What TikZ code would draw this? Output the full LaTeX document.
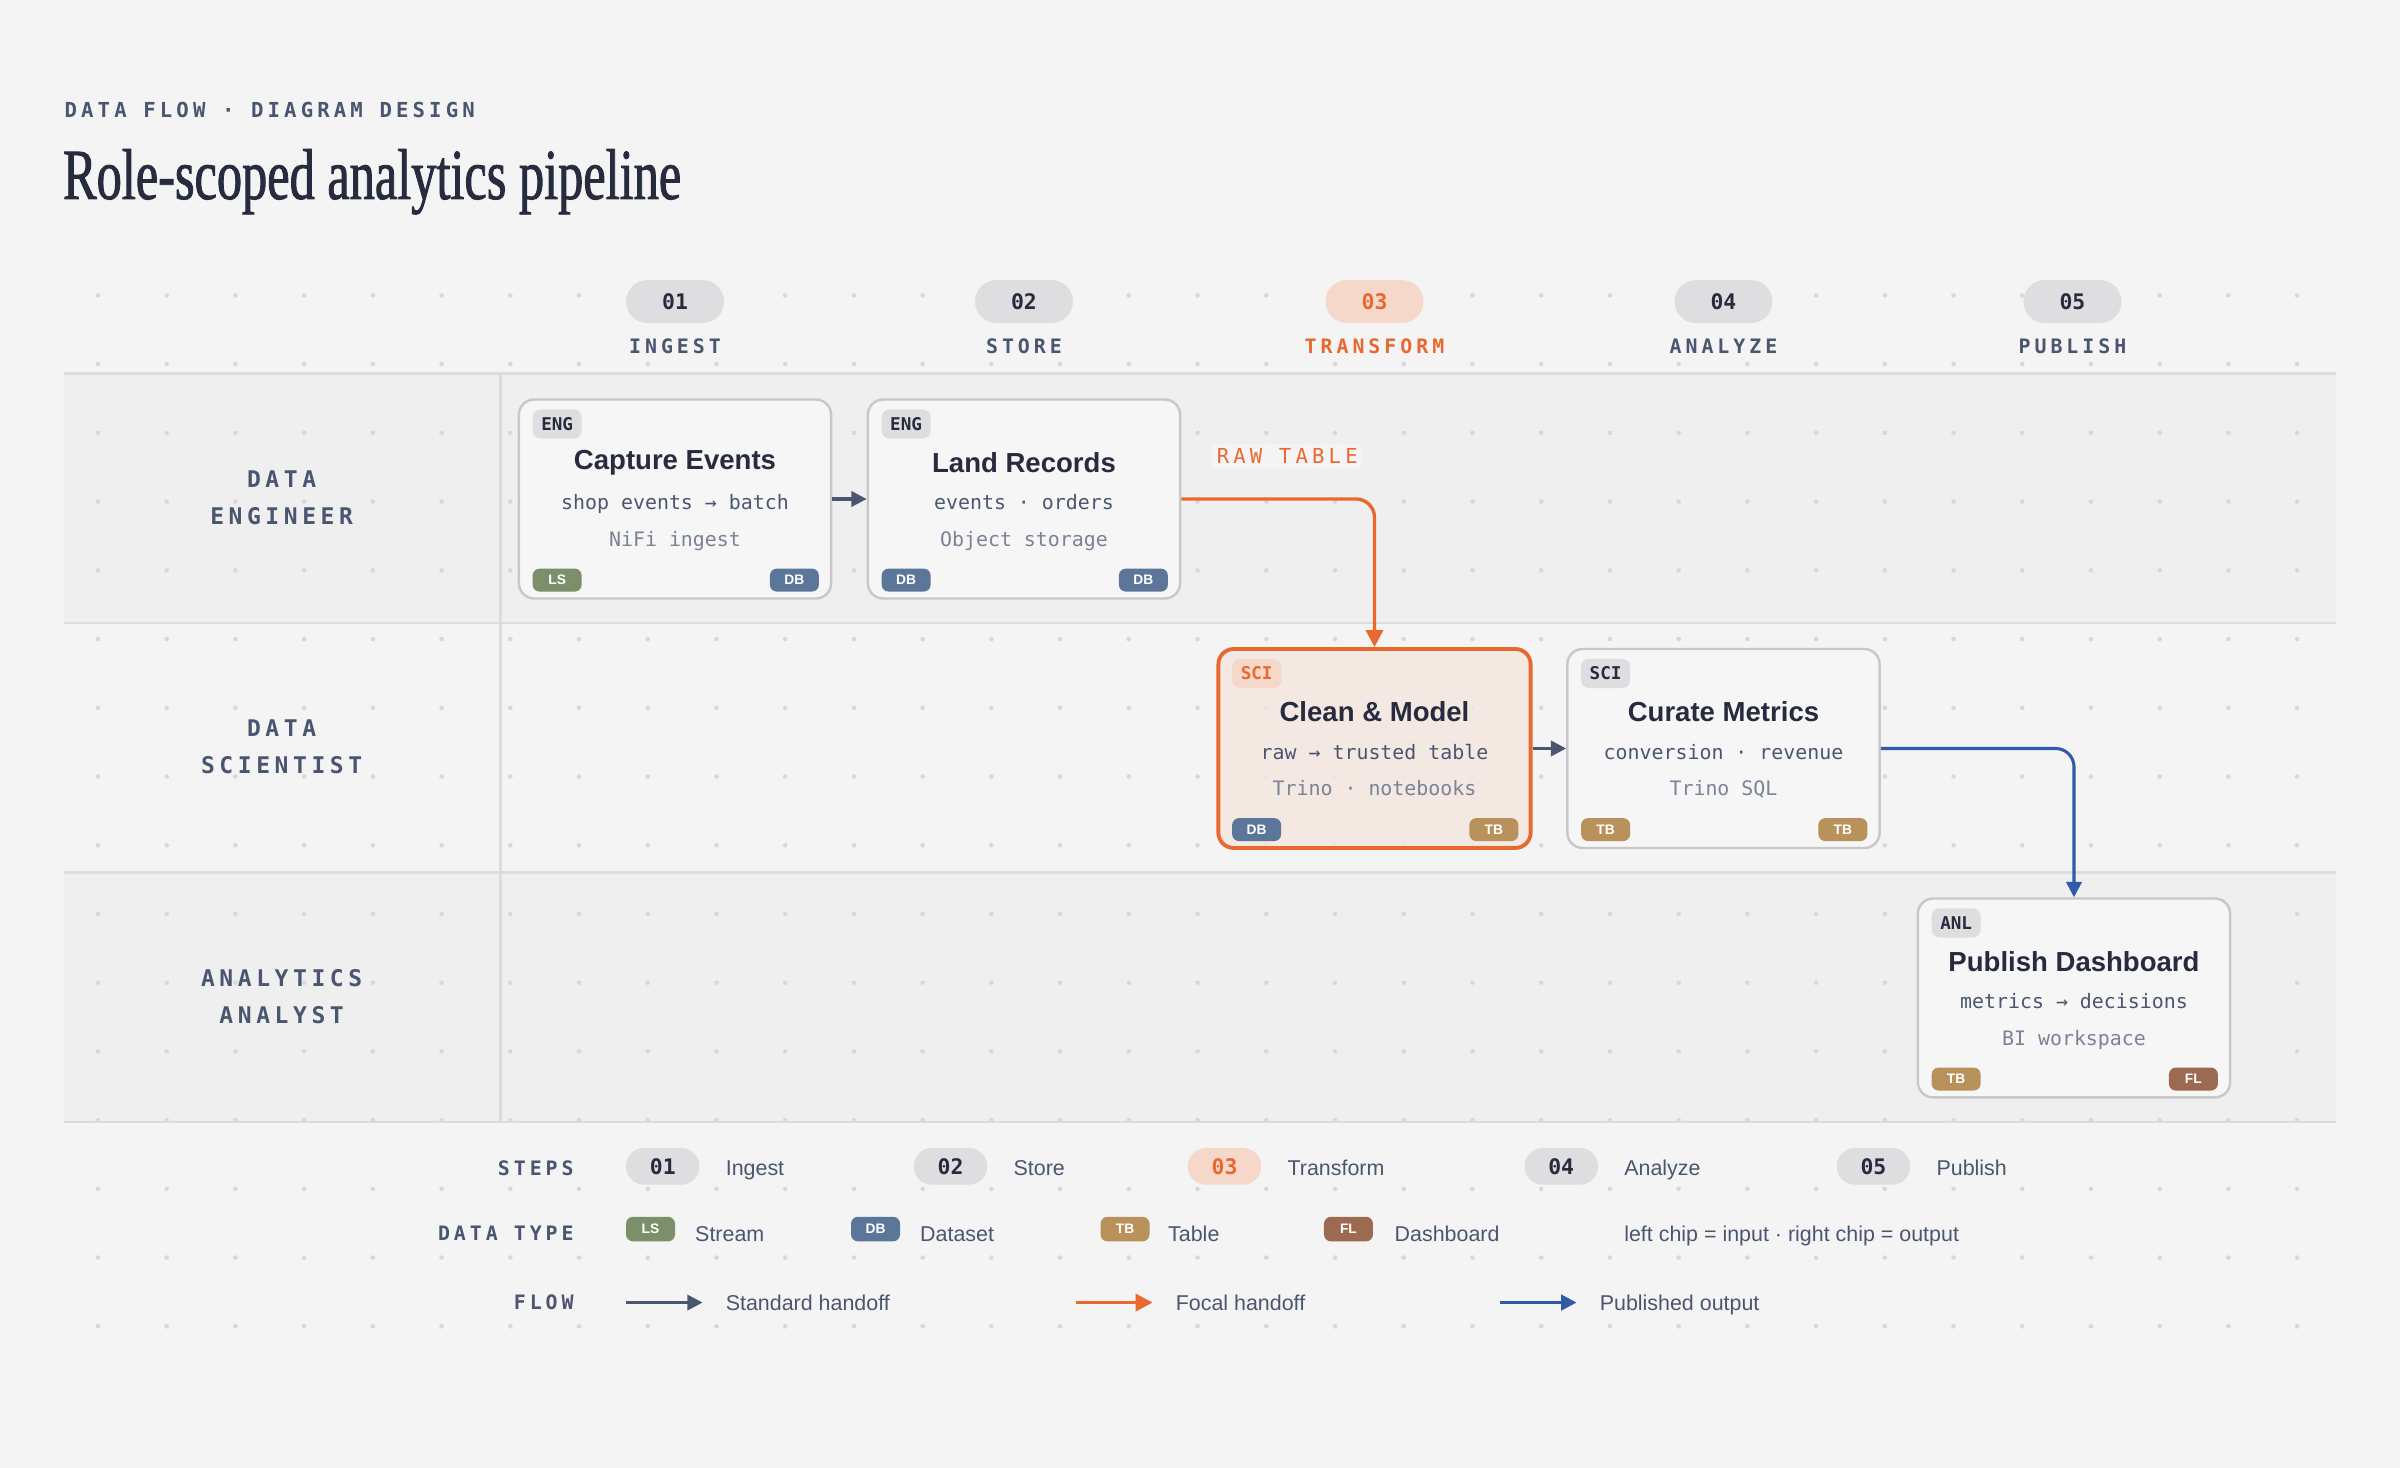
\documentclass[tikz,border=0pt]{standalone}
\usepackage{fontspec}
\usepackage{tikz}
\usetikzlibrary{arrows.meta}

\setmainfont{Liberation Sans}
\newfontfamily\titlefont[FakeStretch=0.7, FakeBold=1.2]{Liberation Serif}
\newfontfamily\codefont{DejaVu Sans Mono}
\newfontfamily\trackfont[LetterSpace=20]{DejaVu Sans Mono}

\definecolor{pagebg}{HTML}{F4F4F4}
\definecolor{laneA}{HTML}{EFEFEF}
\definecolor{rule}{HTML}{DCDCDC}
\definecolor{griddot}{HTML}{D8D8D8}
\definecolor{ink}{HTML}{262B3E}
\definecolor{slate}{HTML}{4A5670}
\definecolor{muted}{HTML}{7A8296}
\definecolor{focal}{HTML}{E8692F}
\definecolor{peach}{HTML}{F6D8CA}
\definecolor{focalbg}{HTML}{F4E6E1}
\definecolor{pub}{HTML}{2F5BAA}
\definecolor{pill}{HTML}{DEDEE0}
\definecolor{cardbg}{HTML}{F6F6F6}
\definecolor{cardedge}{HTML}{C8C8CC}
\definecolor{LS}{HTML}{7B8F6A}
\definecolor{DB}{HTML}{5B7699}
\definecolor{TB}{HTML}{B8925A}
\definecolor{FL}{HTML}{9C6A50}

\begin{document}
\begin{tikzpicture}[x=1pt, y=-1pt,
    card/.style={draw=cardedge, line width=1.6pt, fill=cardbg, rounded corners=10pt,
        minimum width=204pt, minimum height=130pt},
    focalcard/.style={card, draw=focal, line width=2.5pt, fill=focalbg, fill opacity=0.85},
    tag/.style={fill=pill, text=ink, rounded corners=5pt, minimum width=32pt, minimum height=19pt,
        inner sep=0pt, font=\codefont\bfseries\fontsize{11.5}{11.5}\selectfont},
    focaltag/.style={tag, fill=peach, text=focal},
    chip/.style={rounded corners=4.5pt, minimum width=32pt, minimum height=15pt, inner sep=0pt,
        text=white, font=\bfseries\fontsize{9}{9}\selectfont},
    cardtitle/.style={text=ink, font=\bfseries\fontsize{18}{18}\selectfont},
    codeline/.style={font=\codefont\fontsize{13}{13}\selectfont, text height=9pt, text depth=3pt},
    steppill/.style={rounded corners=13.9pt, minimum width=64pt, minimum height=28pt, inner sep=0pt,
        font=\codefont\bfseries\fontsize{14}{14}\selectfont},
    keypill/.style={steppill, rounded corners=11.9pt, minimum width=48pt, minimum height=24pt},
    pillgray/.style={fill=pill, text=ink},
    pillfocal/.style={fill=peach, text=focal},
    steplbl/.style={font=\trackfont\bfseries\fontsize{13}{13}\selectfont},
    lanelbl/.style={align=center, text=slate, font=\trackfont\bfseries\fontsize{15}{24}\selectfont},
    legendkey/.style={anchor=east, inner sep=0pt, text=slate, font=\trackfont\bfseries\fontsize{13}{13}\selectfont},
    legendtxt/.style={anchor=west, inner sep=0pt, yshift=-1.5pt, text=slate, text height=10pt, text depth=3pt,
        font=\fontsize{14}{14}\selectfont},
    flowstd/.style={draw=slate, line width=2pt, -{Triangle[length=10pt,width=10pt]}},
    flowfocal/.style={draw=focal, line width=2.2pt, rounded corners=12pt, -{Triangle[length=11pt,width=11pt]}},
    flowpub/.style={draw=pub, line width=2pt, rounded corners=12pt, -{Triangle[length=10pt,width=10pt]}}
]
% page, lanes and dot grid
\fill[pagebg] (0,0) rectangle (1568,959);
\useasboundingbox (0,0) rectangle (1568,959);
\fill[laneA] (42,244) rectangle (1526,407);
\fill[laneA] (42,570) rectangle (1526,733);
\foreach \i in {0,...,32}
  \foreach \j in {0,...,15}
    \fill[griddot] (64+44.9*\i,193+44.9*\j) circle (1.5pt);
\foreach \y in {244,407,570,733}
  \draw[rule, line width=1.5pt] (42,\y) -- (1526,\y);
\draw[rule, line width=1.5pt] (327,244) -- (327,733);

% heading
\node[anchor=base west, inner sep=0pt, text=slate, font=\trackfont\bfseries\fontsize{13.5}{13.5}\selectfont]
    (kicker) at (42,77) {DATA FLOW · DIAGRAM DESIGN};
\node[anchor=base west, inner sep=0pt, text=ink, font=\titlefont\fontsize{47}{47}\selectfont]
    (title) at (41,130) {Role-scoped analytics pipeline};

% steps
\foreach \n/\cx/\ps/\lc/\lbl in {01/441/pillgray/slate/INGEST, 02/669/pillgray/slate/STORE,
    03/898/pillfocal/focal/TRANSFORM, 04/1126/pillgray/slate/ANALYZE, 05/1354/pillgray/slate/PUBLISH}{
  \node[steppill, \ps] (s\n) at (\cx,197) {\n};
  \node[steplbl, text=\lc] (l\n) at (\cx,226) {\lbl};
}

% roles
\node[lanelbl] (eng) at (184,325) {DATA\\ENGINEER};
\node[lanelbl] (sci) at (184,488) {DATA\\SCIENTIST};
\node[lanelbl] (anl) at (184,651) {ANALYTICS\\ANALYST};

% cards
\foreach \n/\cx/\cy/\sty/\tsty/\tg/\ttl/\la/\lb/\ci/\co in {
    1/441/326/card/tag/ENG/Capture Events/shop events → batch/NiFi ingest/LS/DB,
    2/669/326/card/tag/ENG/Land Records/events · orders/Object storage/DB/DB,
    3/898/489/focalcard/focaltag/SCI/Clean \& Model/raw → trusted table/Trino · notebooks/DB/TB,
    4/1126/489/card/tag/SCI/Curate Metrics/conversion · revenue/Trino SQL/TB/TB,
    5/1355/652/card/tag/ANL/Publish Dashboard/metrics → decisions/BI workspace/TB/FL}{
  \node[\sty] (c\n) at (\cx,\cy) {};
  \node[\tsty] (t\n) at (\cx-77,\cy-49) {\tg};
  \node[cardtitle] (h\n) at (\cx,\cy-24) {\ttl};
  \node[codeline, text=slate] (a\n) at (\cx,\cy+4) {\la};
  \node[codeline, text=muted] (b\n) at (\cx,\cy+28) {\lb};
  \node[chip, fill=\ci] (i\n) at (\cx-77,\cy+53) {\ci};
  \node[chip, fill=\co] (o\n) at (\cx+78,\cy+53) {\co};
}

% handoffs
\node[fill=pagebg, rounded corners=3pt, inner sep=3pt, text=focal,
    font=\trackfont\fontsize{13.5}{13.5}\selectfont] (raw) at (841,298) {RAW TABLE};
\draw[flowstd] (c1) -- (c2);
\draw[flowfocal] (c2.east) -| (c3.north);
\draw[flowstd] (c3) -- (c4);
\draw[flowpub] (c4.east) -| (c5.north);

% legend
\node[legendkey] (kstep) at (375,763) {STEPS};
\node[legendkey] (ktype) at (375,806) {DATA TYPE};
\node[legendkey] (kflow) at (375,851) {FLOW};
\foreach \n/\px/\tx/\ps/\lbl in {01/433/474/pillgray/Ingest, 02/621/662/pillgray/Store,
    03/800/841/pillfocal/Transform, 04/1020/1061/pillgray/Analyze, 05/1224/1265/pillgray/Publish}{
  \node[keypill, \ps] (p\n) at (\px,762) {\n};
  \node[legendtxt] (pt\n) at (\tx,763) {\lbl};
}
\foreach \d/\px/\tx/\lbl in {LS/425/454/Stream, DB/572/601/Dataset, TB/735/763/Table, FL/881/911/Dashboard}{
  \node[chip, minimum height=16pt, fill=\d] (d\d) at (\px,803) {\d};
  \node[legendtxt] (dt\d) at (\tx,806) {\lbl};
}
\node[legendtxt] (chipnote) at (1061,806) {left chip = input · right chip = output};
\coordinate (fs0) at (409,851); \coordinate (fs1) at (459,851);
\coordinate (ff0) at (703,851); \coordinate (ff1) at (753,851);
\coordinate (fp0) at (980,851); \coordinate (fp1) at (1030,851);
\draw[flowstd] (fs0) -- (fs1);
\draw[flowfocal] (ff0) -- (ff1);
\draw[flowpub] (fp0) -- (fp1);
\node[legendtxt] (fst) at (474,851) {Standard handoff};
\node[legendtxt] (fft) at (768,851) {Focal handoff};
\node[legendtxt] (fpt) at (1045,851) {Published output};
\end{tikzpicture}
\end{document}
